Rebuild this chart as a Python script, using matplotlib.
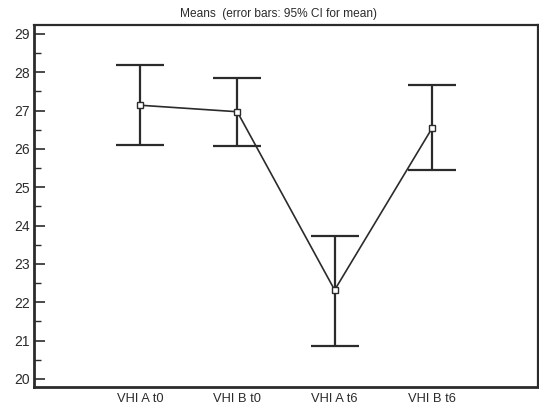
import matplotlib
matplotlib.use('Agg')
import matplotlib.pyplot as plt
from matplotlib.ticker import MultipleLocator

plt.rcParams['font.family'] = ['Liberation Sans', 'DejaVu Sans']

groups = ['VHI A t0', 'VHI B t0', 'VHI A t6', 'VHI B t6']
means = [27.14, 26.97, 22.32, 26.54]
ci_low = [26.09, 26.08, 20.86, 25.44]
ci_high = [28.19, 27.85, 23.74, 27.66]

ink = '#2b2b2b'

fig = plt.figure(figsize=(5.39, 4.08), dpi=100)
ax = fig.add_axes([0.063, 0.0515, 0.935, 0.887])

x = list(range(len(groups)))
err = [[m - lo for m, lo in zip(means, ci_low)],
       [hi - m for m, hi in zip(means, ci_high)]]

ax.errorbar(x, means, yerr=err, fmt='none', ecolor=ink, elinewidth=1.6,
            capsize=17, capthick=1.6, zorder=2)
ax.plot(x, means, color=ink, lw=1.2, marker='s', ms=5, mfc='white',
        mec=ink, mew=1.0, zorder=3)

ax.set_xlim(-1.087, 4.087)
ax.set_ylim(19.79, 29.23)
ax.set_xticks(x)
ax.set_xticklabels(groups, fontsize=9.3)
ax.tick_params(axis='x', length=0, pad=4, colors=ink)
ax.yaxis.set_major_locator(MultipleLocator(1))
ax.yaxis.set_minor_locator(MultipleLocator(0.5))
ax.tick_params(axis='y', which='major', direction='in', length=8, width=1.2,
               labelsize=10, pad=3, colors=ink)
ax.tick_params(axis='y', which='minor', direction='in', length=5, width=1.0,
               colors=ink)

for side in ['left', 'bottom']:
    ax.spines[side].set_linewidth(2.0)
    ax.spines[side].set_color(ink)
for side in ['top', 'right']:
    ax.spines[side].set_linewidth(1.6)
    ax.spines[side].set_color(ink)

fig.text(0.517, 0.965, 'Means  (error bars: 95% CI for mean)', ha='center',
         va='center', fontsize=8.6, color=ink)

fig.savefig('out.png', dpi=100)
